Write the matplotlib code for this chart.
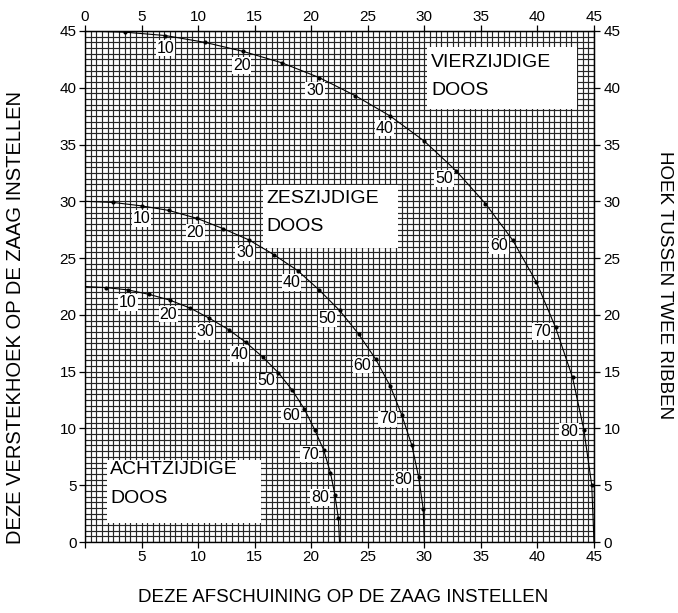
import numpy as np
import matplotlib
matplotlib.use("Agg")
import matplotlib.pyplot as plt
from matplotlib.patches import Rectangle

plt.rcParams['font.family'] = ['Liberation Sans', 'DejaVu Sans']

# angle between the sides, one dot every 5 degrees
angles = [0, 5, 10, 15, 20, 25, 30, 35, 40, 45, 50, 55, 60, 65, 70, 75, 80, 85, 90]
label_angles = [10, 20, 30, 40, 50, 60, 70, 80]

# four-sided box
vier_bevel = [0, 3.5, 7.1, 10.6, 14.0, 17.4, 20.7, 23.9, 27.0, 30.0,
              32.8, 35.4, 37.8, 39.9, 41.6, 43.1, 44.1, 44.8, 45.0]
vier_miter = [45.0, 44.9, 44.6, 44.0, 43.2, 42.2, 40.9, 39.3, 37.5, 35.3,
              32.7, 29.8, 26.6, 22.9, 18.9, 14.5, 9.9, 5.0, 0]

# six-sided box
zes_bevel = [0, 2.5, 5.0, 7.4, 9.9, 12.2, 14.5, 16.7, 18.8, 20.7,
             22.5, 24.2, 25.7, 27.0, 28.0, 28.9, 29.5, 29.9, 30.0]
zes_miter = [30.0, 29.9, 29.6, 29.2, 28.5, 27.6, 26.6, 25.3, 23.9, 22.2,
             20.4, 18.3, 16.1, 13.7, 11.2, 8.5, 5.7, 2.9, 0]

# eight-sided box
acht_bevel = [0, 1.9, 3.8, 5.7, 7.5, 9.3, 11.0, 12.7, 14.2, 15.7,
              17.1, 18.3, 19.4, 20.3, 21.1, 21.7, 22.1, 22.4, 22.5]
acht_miter = [22.5, 22.4, 22.2, 21.8, 21.3, 20.6, 19.7, 18.7, 17.6, 16.3,
              14.9, 13.4, 11.7, 9.9, 8.1, 6.1, 4.1, 2.1, 0]

ticks = [0, 5, 10, 15, 20, 25, 30, 35, 40, 45]

# label offsets (pixels) from the dot, by angle
label_offsets = {10: (0, -12.5), 20: (-1.5, -14), 30: (-4, -13), 40: (-6, -12),
                 50: (-12, -8), 60: (-13.5, -6), 70: (-14, -4), 80: (-15, -2)}

fig = plt.figure(figsize=(6.78, 6.13), dpi=100)
ax = fig.add_axes([85 / 678, 1 - 542 / 613, 509 / 678, 511 / 613])

ax.set_xlim(0, 45)
ax.set_ylim(0, 45)

# dense graph-paper grid
ax.set_xticks(np.arange(0, 45.01, 0.5), minor=True)
ax.set_yticks(np.arange(0, 45.01, 0.5), minor=True)
ax.set_xticks(ticks, labels=[''] + [str(t) for t in ticks[1:]])
ax.set_yticks(ticks, labels=[str(t) for t in ticks])
ax.set_axisbelow(True)
ax.grid(which='both', color='#262626', linewidth=0.85)
ax.tick_params(which='minor', length=0)
ax.tick_params(which='major', direction='out', length=4, width=0.9,
               labelsize=11, pad=2)
for s in ax.spines.values():
    s.set_linewidth(1.0)

top = ax.secondary_xaxis('top')
top.set_xticks(ticks, labels=[str(t) for t in ticks])
top.tick_params(direction='out', length=4, width=0.9, labelsize=11, pad=1)
right = ax.secondary_yaxis('right')
right.set_yticks(ticks, labels=[str(t) for t in ticks])
right.tick_params(direction='out', length=4, width=0.9, labelsize=11, pad=3)

curves = [(vier_bevel, vier_miter), (zes_bevel, zes_miter), (acht_bevel, acht_miter)]
for bevel, miter in curves:
    ax.plot(bevel, miter, color='black', lw=0.8, zorder=3, solid_joinstyle='round')
    ax.plot(bevel[1:-1], miter[1:-1], 'o', color='black', ms=2.0, zorder=4)
    for a in label_angles:
        i = angles.index(a)
        ax.annotate(str(a), (bevel[i], miter[i]), xytext=label_offsets[a],
                    textcoords='offset pixels', ha='center', va='center',
                    fontsize=11.5, zorder=5,
                    bbox=dict(boxstyle='square,pad=0.05', fc='white', ec='none'))

# white name boxes
boxes = [((30.2, 38.1), 13.3, 5.5, 30.6, 42.25, 39.8, 'VIERZIJDIGE'),
         ((15.7, 25.9), 12.0, 5.5, 16.05, 30.25, 27.75, 'ZESZIJDIGE'),
         ((1.95, 1.65), 13.65, 5.55, 2.2, 6.35, 3.85, 'ACHTZIJDIGE')]
for (x0, y0), w, h, tx, ty1, ty2, name in boxes:
    ax.add_patch(Rectangle((x0, y0), w, h, fc='white', ec='none', zorder=2))
    ax.text(tx, ty1, name, fontsize=14, ha='left', va='center', zorder=5)
    ax.text(tx, ty2, 'DOOS', fontsize=14, ha='left', va='center', zorder=5)

fig.text(343 / 678, 1 - 598 / 613, 'DEZE AFSCHUINING OP DE ZAAG INSTELLEN',
         ha='center', va='center', fontsize=13.5)
fig.text(16 / 678, 1 - 318 / 613, 'DEZE VERSTEKHOEK OP DE ZAAG INSTELLEN',
         ha='center', va='center', rotation=90, fontsize=14.5)
fig.text(665 / 678, 1 - 285 / 613, 'HOEK TUSSEN TWEE RIBBEN',
         ha='center', va='center', rotation=270, fontsize=13.5)

fig.savefig('out.png', dpi=100, facecolor='white')
